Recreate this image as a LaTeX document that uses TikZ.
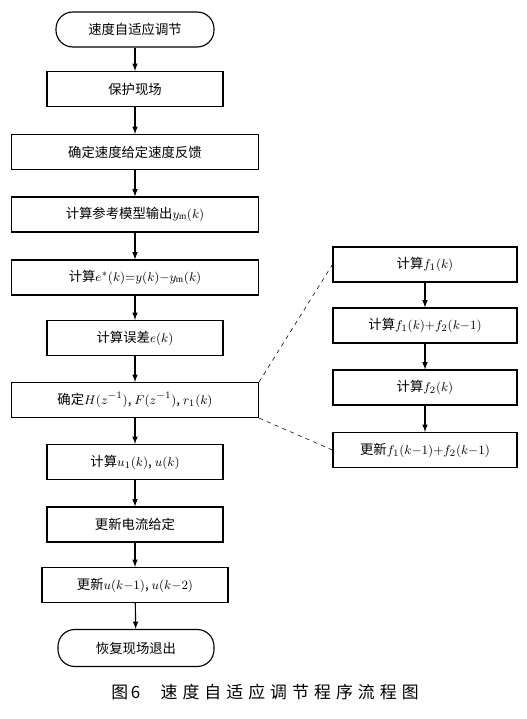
\documentclass[tikz,border=0pt]{standalone}
\usepackage{fontspec}
\setmainfont{Liberation Serif}
\newfontfamily\cjk{Noto Sans CJK SC}
\newfontfamily\capfont[LetterSpace=30]{Noto Sans CJK SC}
\usetikzlibrary{calc}

\tikzset{
  flowbox/.style={draw, line width=0.8pt, minimum height=0.875cm, inner sep=1pt, font=\cjk\fontsize{9.5}{11}\selectfont},
  termbox/.style={flowbox, rounded corners=0.42cm},
  arr/.style={line width=0.8pt,-latex},
  link/.style={thin,dashed}
}

\begin{document}
\begin{tikzpicture}
				\useasboundingbox (0,0) rectangle (13.15,17.975);
				% main column
				\node[termbox, minimum width=3.95cm] (start) at (3.375,17.2375) {速度自适应调节};
				\node[flowbox, minimum width=4.4cm]  (save)  at (3.375,15.75)   {保护现场};
				\node[flowbox, minimum width=6.175cm] (speed) at (3.375,14.175) {确定速度给定速度反馈};
				\node[flowbox, minimum width=6.175cm] (ym)    at (3.375,12.6125) {计算参考模型输出$y_{\mathrm{m}}(k)$};
				\node[flowbox, minimum width=6.175cm] (estar) at (3.375,11.0375) {计算$e^{*}(k){=}y(k){-}y_{\mathrm{m}}(k)$};
				\node[flowbox, minimum width=4.4cm]  (err)   at (3.375,9.525)   {计算误差$e(k)$};
				\node[flowbox, minimum width=6.175cm] (hf)    at (3.375,7.975)  {确定$H(z^{-1})$, $F(z^{-1})$, $r_1(k)$};
				\node[flowbox, minimum width=4.4cm]  (uk)    at (3.375,6.425)   {计算$u_1(k)$, $u(k)$};
				\node[flowbox, minimum width=4.4cm]  (cur)   at (3.375,4.8625)  {更新电流给定};
				\node[flowbox, minimum width=4.65cm] (upd)   at (3.375,3.35)    {更新$u(k{-}1)$, $u(k{-}2)$};
				\node[termbox, minimum width=3.9cm, minimum height=0.925cm] (stop) at (3.4,1.775) {恢复现场退出};
				% right column
				\node[flowbox, minimum width=4.6cm] (fa) at (10.625,11.3625) {计算$f_1(k)$};
				\node[flowbox, minimum width=4.6cm] (fb) at (10.625,9.8375)  {计算$f_1(k){+}f_2(k{-}1)$};
				\node[flowbox, minimum width=4.6cm] (fc) at (10.625,8.2875)  {计算$f_2(k)$};
				\node[flowbox, minimum width=4.6cm] (fd) at (10.625,6.725)   {更新$f_1(k{-}1){+}f_2(k{-}1)$};
				% arrows
				\draw[arr] (start) -- (save);
				\draw[arr] (save) -- (speed);
				\draw[arr] (speed) -- (ym);
				\draw[arr] (ym) -- (estar);
				\draw[arr] (estar) -- (err);
				\draw[arr] (err) -- (hf);
				\draw[arr] (hf) -- (uk);
				\draw[arr] (uk) -- (cur);
				\draw[arr] (cur) -- (upd);
				\draw[arr] (upd) -- (stop);
				\draw[arr] (fa) -- (fb);
				\draw[arr] (fb) -- (fc);
				\draw[arr] (fc) -- (fd);
				\draw[link] (hf.north east) -- (fa.west);
				\draw[link] (hf.south east) -- (fd.west);
				% caption
				\node[font=\capfont\fontsize{12}{14}\selectfont] (cap) at (6.625,0.675) {图\,6\hspace{1.2em}速度自适应调节程序流程图};
			\end{tikzpicture}
\end{document}
